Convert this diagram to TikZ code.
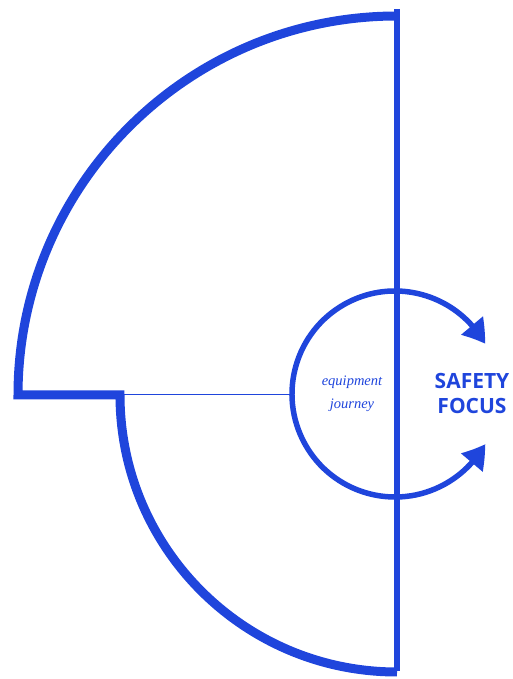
\documentclass[tikz,border=0pt]{standalone}
\usepackage{fontspec}
\newfontfamily\headsans{Open Sans}
\newfontfamily\noteserif{Liberation Serif}
\usetikzlibrary{arrows.meta, bending, calc}
\definecolor{brand}{RGB}{31,69,220}

\begin{document}
\begin{tikzpicture}[x=1pt, y=1pt, line join=miter, draw=brand]
  \useasboundingbox (0,0) rectangle (513,679);
  \coordinate (c) at (397,284);
  \coordinate (top) at (397,663);
  \coordinate (corner) at (120,284);
  % outer fan
  \draw[brand, line width=9pt] (top) arc[start angle=90, end angle=180, radius=379] -- (corner) arc[start angle=180, end angle=270, radius=277];
  \draw[brand, line width=6.5pt] (397,670) coordinate (vt) -- (397,8) coordinate (vb);
  % ring with arrows
  \coordinate (rc) at (395,285);
  \draw[brand, line width=5.5pt, {Triangle[length=23pt, width=27pt, bend]}-{Triangle[length=23pt, width=27pt, bend]}] ($(rc)+(29:103)$) arc[start angle=29, end angle=331, radius=103];
  \coordinate (ringleft) at (292,284);
  \draw[brand, line width=1pt] (corner) -- (ringleft);
  \node[brand, font=\noteserif\fontsize{14.5}{23}\selectfont\itshape, align=center] (journey) at (352,285) {equipment\\journey};
  \node[brand, font=\headsans\bfseries\fontsize{21}{25}\selectfont, align=center] (focus) at (472,285) {SAFETY\\FOCUS};
\end{tikzpicture}
\end{document}
